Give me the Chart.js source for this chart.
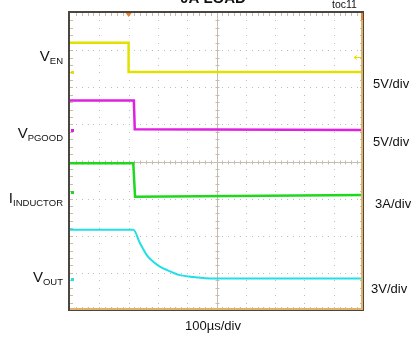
<!DOCTYPE html>
<html>
<head>
<meta charset="utf-8">
<script src="https://cdn.jsdelivr.net/npm/chart.js@4.4.0/dist/chart.umd.min.js"></script>
<style>
  html, body { margin: 0; padding: 0; background: #fff; }
  #wrap { width: 411px; height: 337px; position: relative; }
</style>
</head>
<body>
<div id="wrap"><canvas id="scope" width="411" height="337"></canvas></div>
<script>
var enX = [0, 2.0, 2.0, 10];
var enY = [7.20, 7.20, 6.41, 6.41];
var pgX = [0, 2.18, 2.21, 10];
var pgY = [5.64, 5.64, 4.87, 4.85];
var ilX = [0, 2.16, 2.22, 10];
var ilY = [3.95, 3.95, 3.05, 3.10];
var voX = [0, 2.16, 2.39, 2.62, 2.84, 3.07, 3.30, 3.75, 4.21, 4.89, 7.85, 10];
var voY = [2.16, 2.16, 1.80, 1.48, 1.30, 1.17, 1.08, 0.94, 0.89, 0.85, 0.85, 0.85];

var traceNames = ['V_EN', 'V_PGOOD', 'I_INDUCTOR', 'V_OUT'];
var traceColors = ['#e2e000', '#e020e0', '#1ed81e', '#22dfe6'];
var groundLevels = [6.41, 4.84, 3.19, 0.84];
var scaleLabels = ['5V/div', '5V/div', '3A/div', '3V/div'];
var timeLabel = '100\u00b5s/div';
var triggerTime = 2.0;
var triggerLevel = 6.82;

function pts(xs, ys) {
    return xs.map((x, i) => ({ x: x, y: ys[i] }));
}

var scopePlugin = {
    id: 'scopeGrid',
    beforeDatasetsDraw: function (chart) {
        var c = chart.ctx, a = chart.chartArea;
        var xs = chart.scales.x, ys = chart.scales.y;
        c.save();
        // dotted grid
        c.fillStyle = '#bdbdbd';
        for (var i = 1; i < 10; i++) {
            if (i == 5) continue;
            var px = Math.round(xs.getPixelForValue(i));
            for (var k = 0; k <= 40; k++) {
                c.fillRect(px, Math.round(ys.getPixelForValue(k * 0.2)), 1, 1);
            }
        }
        for (var j = 1; j < 8; j++) {
            if (j == 4) continue;
            var py = Math.round(ys.getPixelForValue(j));
            for (var k = 0; k <= 50; k++) {
                c.fillRect(Math.round(xs.getPixelForValue(k * 0.2)), py, 1, 1);
            }
        }
        // centre cross with minor ticks
        var cx = Math.round(xs.getPixelForValue(5)) + 0.5;
        var cy = Math.round(ys.getPixelForValue(4)) + 0.5;
        c.strokeStyle = '#c4bdb0';
        c.lineWidth = 1;
        c.beginPath();
        c.moveTo(cx, a.top); c.lineTo(cx, a.bottom);
        c.moveTo(a.left, cy); c.lineTo(a.right, cy);
        for (var k = 1; k < 50; k++) {
            var tx = Math.round(xs.getPixelForValue(k * 0.2)) + 0.5;
            c.moveTo(tx, cy - 2); c.lineTo(tx, cy + 2);
            c.moveTo(tx, a.top); c.lineTo(tx, a.top + 3);
            c.moveTo(tx, a.bottom); c.lineTo(tx, a.bottom - 3);
        }
        for (var k = 1; k < 40; k++) {
            var ty = Math.round(ys.getPixelForValue(k * 0.2)) + 0.5;
            c.moveTo(cx - 2, ty); c.lineTo(cx + 2, ty);
            c.moveTo(a.left, ty); c.lineTo(a.left + 3, ty);
            c.moveTo(a.right, ty); c.lineTo(a.right - 3, ty);
        }
        c.stroke();
        c.restore();
    },
    afterDatasetsDraw: function (chart) {
        var c = chart.ctx, a = chart.chartArea;
        var xs = chart.scales.x, ys = chart.scales.y;
        c.save();
        // frame
        c.fillStyle = '#e3b26a';
        c.fillRect(a.left, a.bottom - 2, a.right - a.left, 2);
        c.fillRect(a.right - 2, a.top, 2, a.bottom - a.top);
        c.fillStyle = '#4a4740';
        c.fillRect(a.left - 2, a.top - 2, a.right - a.left + 3, 2);
        c.fillRect(a.left - 2, a.top - 2, 2, a.bottom - a.top + 3);
        c.fillRect(a.left - 2, a.bottom, a.right - a.left + 3, 1);
        c.fillRect(a.right, a.top - 2, 1, a.bottom - a.top + 3);
        // channel ground markers
        groundLevels.forEach(function (g, i) {
            c.fillStyle = traceColors[i];
            c.fillRect(a.left + 1, Math.round(ys.getPixelForValue(g)) - 1, 3, 3);
        });
        // trigger position and level
        var tx = xs.getPixelForValue(triggerTime);
        c.fillStyle = '#f08020';
        c.beginPath();
        c.moveTo(tx - 3, a.top); c.lineTo(tx + 3, a.top); c.lineTo(tx, a.top + 4);
        c.fill();
        c.fillRect(a.right - 2, a.top, 2, 7);
        var ly = Math.round(ys.getPixelForValue(triggerLevel)) + 0.5;
        c.strokeStyle = traceColors[0];
        c.beginPath();
        c.moveTo(a.right - 9, ly); c.lineTo(a.right - 2, ly);
        c.moveTo(a.right - 6, ly - 2); c.lineTo(a.right - 9, ly); c.lineTo(a.right - 6, ly + 2);
        c.stroke();

        // texts
        c.fillStyle = '#111';
        c.textBaseline = 'alphabetic';
        c.font = 'bold 15px "Liberation Sans", Arial, sans-serif';
        c.textAlign = 'center';
        c.fillText('0A LOAD', 213, 3);
        c.font = '10.5px "Liberation Sans", Arial, sans-serif';
        c.textAlign = 'left';
        c.fillText('toc11', 332, 8);
        c.font = '13px "Liberation Sans", Arial, sans-serif';
        c.textAlign = 'center';
        c.fillText(timeLabel, 213, 330);

        var leftBase = [61, 138, 203, 282];
        traceNames.forEach(function (n, i) {
            var main = n.split('_')[0], sub = n.split('_')[1];
            c.font = '9.5px "Liberation Sans", Arial, sans-serif';
            var sw = c.measureText(sub).width;
            c.font = '15px "Liberation Sans", Arial, sans-serif';
            var mw = c.measureText(main).width;
            var x0 = 63 - sw - mw;
            c.textAlign = 'left';
            c.fillText(main, x0, leftBase[i]);
            c.font = '9.5px "Liberation Sans", Arial, sans-serif';
            c.fillText(sub, x0 + mw, leftBase[i] + 3);
        });
        var rightBase = [88, 146, 208, 293];
        var rightX = [373, 373, 375, 371];
        c.font = '13px "Liberation Sans", Arial, sans-serif';
        scaleLabels.forEach(function (s, i) {
            c.fillText(s, rightX[i], rightBase[i]);
        });
        c.restore();
    }
};

var ctx = document.getElementById('scope').getContext('2d');
var scopeChart = new Chart(ctx, {
    type: 'line',
    data: {
        datasets: [
            { label: traceNames[0], data: pts(enX, enY), borderColor: traceColors[0], borderWidth: 2.5 },
            { label: traceNames[1], data: pts(pgX, pgY), borderColor: traceColors[1], borderWidth: 2.5 },
            { label: traceNames[2], data: pts(ilX, ilY), borderColor: traceColors[2], borderWidth: 2.5 },
            { label: traceNames[3], data: pts(voX, voY), borderColor: traceColors[3], borderWidth: 2, cubicInterpolationMode: 'monotone' }
        ]
    },
    options: {
        responsive: false,
        animation: false,
        layout: { padding: { left: 70, top: 13, right: 48, bottom: 27 } },
        elements: { point: { radius: 0 }, line: { tension: 0 } },
        plugins: { legend: { display: false }, tooltip: { enabled: false } },
        scales: {
            x: { type: 'linear', min: 0, max: 10, display: false },
            y: { type: 'linear', min: 0, max: 8, display: false }
        }
    },
    plugins: [scopePlugin]
});
</script>
</body>
</html>
